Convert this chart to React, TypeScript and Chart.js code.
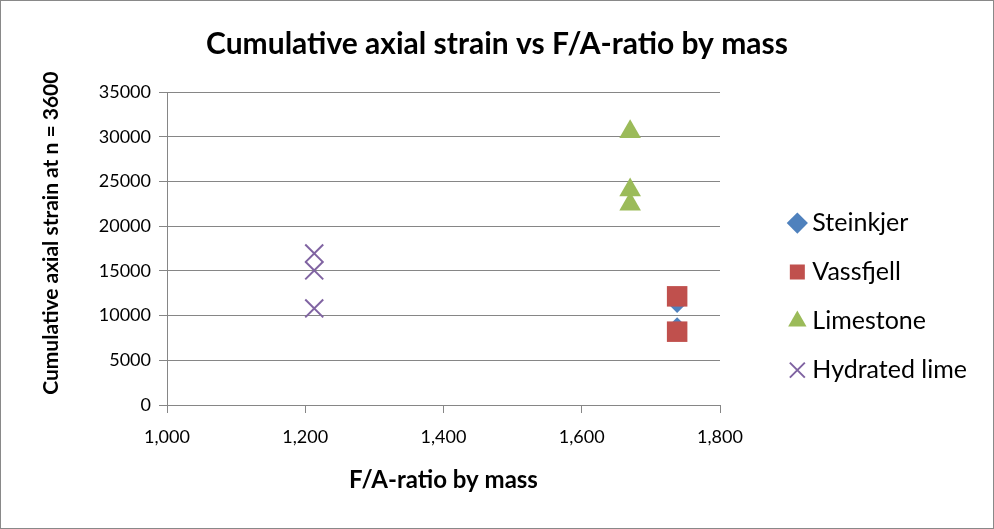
import React, { useEffect, useRef } from "react";
import { Chart, registerables } from "chart.js";

Chart.register(...registerables);

// ---- data ----
const seriesNames = ["Steinkjer", "Vassfjell", "Limestone", "Hydrated lime"];
const steinkjerX = [1738, 1738];
const steinkjerY = [11400, 8700];
const vassfjellX = [1738, 1738];
const vassfjellY = [12150, 8200];
const limestoneX = [1670, 1670, 1670];
const limestoneY = [30550, 24050, 22450];
const hydratedX = [1213, 1213, 1213];
const hydratedY = [16950, 15050, 10800];
const xTicks = [1000, 1200, 1400, 1600, 1800];
const yTicks = [0, 5000, 10000, 15000, 20000, 25000, 30000, 35000];

const titleText = "Cumulative axial strain vs F/A-ratio by mass";
const xTitle = "F/A-ratio by mass";
const yTitle = "Cumulative axial strain at n = 3600";

const toPoints = (xs: number[], ys: number[]) => xs.map((x, i) => ({ x, y: ys[i] }));

const GRID = "#868686";
const FONT = "Lato";
const SIDE_PAD = 17;

export default function App() {
  const ref = useRef<HTMLCanvasElement | null>(null);

  useEffect(() => {
    if (!ref.current) return;
    const chart = new Chart(ref.current, {
      type: "scatter",
      data: {
        datasets: [
          {
            label: seriesNames[0],
            data: toPoints(steinkjerX, steinkjerY),
            pointStyle: "rectRot",
            pointRadius: 10,
            backgroundColor: "#4F81BD",
            borderColor: "#4F81BD",
            borderWidth: 0,
            order: 4,
          },
          {
            label: seriesNames[1],
            data: toPoints(vassfjellX, vassfjellY),
            pointStyle: "rect",
            pointRadius: 14.5,
            backgroundColor: "#C0504D",
            borderColor: "#C0504D",
            borderWidth: 0,
            order: 3,
          },
          {
            label: seriesNames[2],
            data: toPoints(limestoneX, limestoneY),
            pointStyle: "triangle",
            pointRadius: 12.5,
            backgroundColor: "#9BBB59",
            borderColor: "#9BBB59",
            borderWidth: 0,
            order: 2,
          },
          {
            label: seriesNames[3],
            data: toPoints(hydratedX, hydratedY),
            pointStyle: "crossRot",
            pointRadius: 12.7,
            backgroundColor: "#8064A2",
            borderColor: "#8064A2",
            borderWidth: 2,
            order: 1,
          },
        ],
      },
      options: {
        responsive: false,
        animation: false,
        layout: { padding: { left: SIDE_PAD, right: SIDE_PAD, top: 0, bottom: 0 } },
        plugins: {
          tooltip: { enabled: false },
          title: {
            display: true,
            text: titleText,
            color: "#000",
            font: { family: FONT, size: 30, weight: "bold" },
            padding: { top: 26, bottom: 30 },
          },
          legend: {
            display: true,
            position: "right",
            align: "center",
            maxWidth: 400,
            title: { display: true, text: " ", font: { size: 1 }, padding: { top: 0, bottom: 63 } },
            labels: {
              usePointStyle: true,
              boxWidth: 5,
              boxHeight: 15,
              padding: 24,
              color: "#000",
              font: { family: FONT, size: 25 },
              sort: (a: any, b: any) => a.datasetIndex - b.datasetIndex,
            },
          },
        },
        scales: {
          x: {
            type: "linear",
            position: "bottom",
            min: xTicks[0],
            max: xTicks[xTicks.length - 1],
            afterFit: (s: any) => {
              s.height = 124;
            },
            ticks: {
              stepSize: xTicks[1] - xTicks[0],
              padding: 13,
              color: "#000",
              font: { family: FONT, size: 18 },
              callback: (v: any) => Number(v).toLocaleString("en-US"),
            },
            grid: { display: true, drawOnChartArea: false, drawTicks: true, tickLength: 8, color: GRID },
            border: { display: true, color: GRID, width: 1 },
            title: {
              display: true,
              text: xTitle,
              color: "#000",
              font: { family: FONT, size: 24, weight: "bold" },
              padding: { top: 0, bottom: 34 },
            },
          },
          y: {
            type: "linear",
            position: "left",
            min: yTicks[0],
            max: yTicks[yTicks.length - 1],
            afterFit: (s: any) => {
              s.width = 167 - SIDE_PAD;
            },
            ticks: {
              stepSize: yTicks[1] - yTicks[0],
              padding: 8,
              color: "#000",
              font: { family: FONT, size: 18 },
              callback: (v: any) => String(v),
            },
            grid: { display: true, drawOnChartArea: true, drawTicks: true, tickLength: 8, color: GRID },
            border: { display: true, color: GRID, width: 1 },
            title: {
              display: true,
              text: "      " + yTitle,
              color: "#000",
              font: { family: FONT, size: 21, weight: "bold" },
              padding: { top: 22, bottom: 0 },
            },
          },
          y2: {
            type: "linear",
            position: "right",
            display: true,
            grid: { display: false, drawTicks: false },
            border: { display: false },
            ticks: { display: false },
            title: { display: false },
            afterFit: (s: any) => {
              const lw = s.chart.legend ? s.chart.legend.width : 0;
              s.width = Math.max(0, 994 - SIDE_PAD - 720 - lw);
            },
          },
        },
      },
    } as any);
    return () => chart.destroy();
  }, []);

  return (
    <div style={{ position: "absolute", left: 0, top: 0, width: 994, height: 529, background: "#fff" }}>
      <canvas ref={ref} width={994} height={529} style={{ display: "block" }} />
      <div
        style={{
          position: "absolute",
          left: 0,
          top: 0,
          width: 994,
          height: 529,
          boxSizing: "border-box",
          border: "1px solid #898989",
          pointerEvents: "none",
        }}
      />
    </div>
  );
}
